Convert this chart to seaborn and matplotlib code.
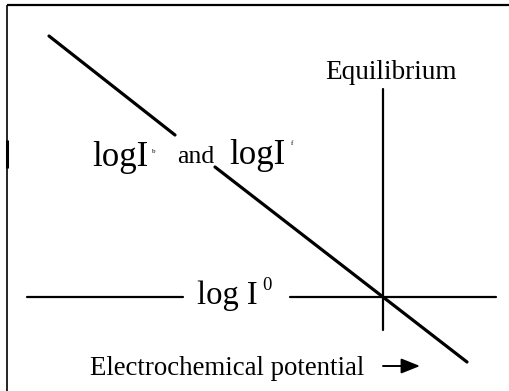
import numpy as np
import pandas as pd
import matplotlib
matplotlib.use("Agg")
import matplotlib.pyplot as plt
import seaborn as sns

# Schematic data (pixel-like coordinates of the diagram, y downward)
diag_seg = ["upper", "upper", "lower", "lower"]
diag_x = [49, 175, 215, 467]
diag_y = [36, 135, 167, 362]

hline_seg = ["left", "left", "right", "right"]
hline_x = [27, 183, 290, 496]
hline_y = [297, 297, 297, 297]

vline_x = [383, 383]
vline_y = [89, 330]

label_eq = "Equilibrium"
label_ib = "logI"
label_and = "and"
label_if = "logI"
label_i0 = "log I"
label_x = "Electrochemical potential"

sns.set_theme(style="white")
plt.rcParams['font.family'] = ['Liberation Serif', 'DejaVu Serif']
plt.rcParams['text.color'] = 'black'

fig = plt.figure(figsize=(5.10, 3.91), dpi=100)
ax = fig.add_axes([0, 0, 1, 1])
ax.set_xlim(0, 510)
ax.set_ylim(391, 0)
ax.axis("off")

diag = pd.DataFrame({"seg": diag_seg, "x": diag_x, "y": diag_y})
hl = pd.DataFrame({"seg": hline_seg, "x": hline_x, "y": hline_y})
vl = pd.DataFrame({"seg": ["v", "v"], "x": vline_x, "y": vline_y})

sns.lineplot(data=diag, x="x", y="y", units="seg", estimator=None, sort=False,
             color="black", lw=2.3, ax=ax)
sns.lineplot(data=hl, x="x", y="y", units="seg", estimator=None, sort=False,
             color="black", lw=1.6, ax=ax)
sns.lineplot(data=vl, x="x", y="y", units="seg", estimator=None, sort=False,
             color="black", lw=1.6, ax=ax)
ax.set_xlim(0, 510)
ax.set_ylim(391, 0)

# frame lines (top and left)
ax.plot([7, 510], [5, 5], color="black", lw=1.6, solid_capstyle="butt")
ax.plot([7, 7], [5, 391], color="black", lw=1.2, solid_capstyle="butt")
ax.plot([7, 7], [140, 168], color="black", lw=2.2, solid_capstyle="butt")

# arrow
ax.annotate("", xy=(420, 366), xytext=(383, 366),
            arrowprops=dict(arrowstyle="-|>,head_length=0.95,head_width=0.38",
                            color="black", lw=1.4, shrinkA=0, shrinkB=0))

# texts
ax.text(391, 79, label_eq, fontsize=19.6, ha="center", va="baseline", color="black")
ax.text(92, 166, label_ib, fontsize=25, ha="left", va="baseline", color="black")
ax.text(152, 153, "b", fontsize=5, ha="left", va="baseline", color="black")
ax.text(177, 163, label_and, fontsize=18.5, ha="left", va="baseline", color="black")
ax.text(229, 164, label_if, fontsize=25, ha="left", va="baseline", color="black")
ax.text(291, 145, "f", fontsize=5, ha="left", va="baseline", color="black")
ax.text(197, 304, label_i0, fontsize=23.5, ha="left", va="baseline", color="black")
ax.text(262, 290, "0", fontsize=13.5, ha="left", va="baseline", color="black")
ax.text(90, 375, label_x, fontsize=19.4, ha="left", va="baseline", color="black")

fig.savefig("out.png", dpi=100, facecolor="white")
